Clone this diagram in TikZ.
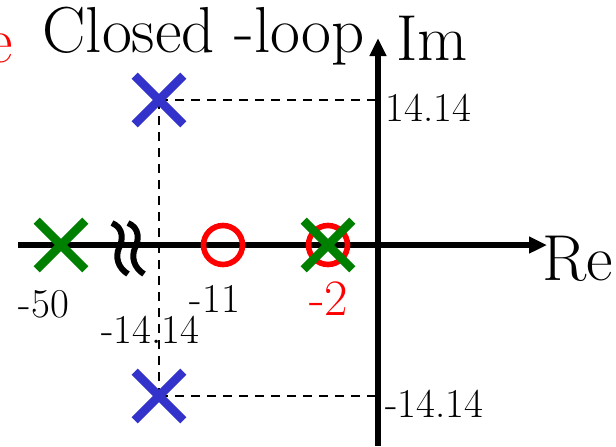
\documentclass[tikz,border=0pt]{standalone}
\usetikzlibrary{arrows.meta, shapes.misc}
\definecolor{polblue}{RGB}{51,51,204}
\definecolor{polgreen}{RGB}{0,128,0}

\begin{document}
\begin{tikzpicture}[x=0.5pt, y=-0.5pt,
  axis/.style={line width=3pt, -{Triangle[length=9pt,width=8pt]}},
  guide/.style={line width=1.2pt, dash pattern=on 4.5pt off 3.5pt},
  cpole/.style={cross out, draw=polblue, line width=4.3pt, minimum size=20pt, inner sep=0pt},
  opole/.style={cross out, draw=polgreen, line width=4.3pt, minimum size=20pt, inner sep=0pt},
  zero/.style={circle, draw=red, line width=2.8pt, minimum size=19.5pt, inner sep=0pt},
  numlbl/.style={font=\fontsize{20.5}{22}\selectfont, inner sep=0pt},
  bigtxt/.style={font=\fontsize{32.5}{35}\selectfont, inner sep=0pt},
  brk/.style={line width=3pt}]
\useasboundingbox (0,0) rectangle (616,446);
\clip (0,0) rectangle (616,446);
% guide lines of the closed-loop poles
\coordinate (cpU) at (159,100);
\coordinate (cpD) at (159,396);
\coordinate (imU) at (378,100);
\coordinate (imD) at (378,396);
\draw[guide] (cpU) -- (imU);
\draw[guide] (cpD) -- (imD);
\draw[guide] (cpU) -- (cpD);
% axes
\coordinate (reL) at (18,245);
\coordinate (reR) at (547,245);
\coordinate (imB) at (378,446);
\coordinate (imT) at (378,38);
\draw[axis] (reL) -- (reR);
\draw[axis] (imB) -- (imT);
% axis break
\draw[brk] (112,223) .. controls (124,228) and (123,240) .. (119,248) .. controls (115,257) and (118,268) .. (128,274);
\draw[brk] (128,223) .. controls (140,228) and (139,240) .. (135,248) .. controls (131,257) and (134,268) .. (144,274);
% poles and zeros
\node[cpole] (pU) at (cpU) {};
\node[cpole] (pD) at (cpD) {};
\node[opole] (p50) at (61,245) {};
\node[zero] (z11) at (223,245) {};
\node[zero] (z2) at (328,245) {};
\node[opole] (p2) at (328,245) {};
% labels
\node[bigtxt, red, anchor=base east] (ttlA) at (13,62) {e};
\node[bigtxt, anchor=base west] (ttlB) at (42,52) {Closed -loop};
\node[bigtxt, anchor=base west] (imlbl) at (396,60) {Im};
\node[bigtxt, anchor=base west] (relbl) at (542,280) {Re};
\node[numlbl, anchor=base west] (vU) at (385,121) {14.14};
\node[numlbl, anchor=base west] (vD) at (385,417) {-14.14};
\node[numlbl, anchor=base] (v50) at (44,317) {-50};
\node[numlbl, anchor=base] (v14) at (150,343) {-14.14};
\node[numlbl, anchor=base] (v11) at (215,312) {-11};
\node[font=\fontsize{25.5}{28}\selectfont, inner sep=0pt, red, anchor=base] (v2) at (329,315) {-2};
\end{tikzpicture}
\end{document}
